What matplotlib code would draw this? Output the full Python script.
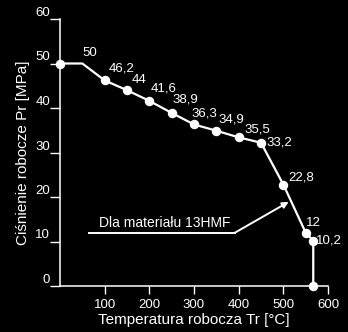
import matplotlib
matplotlib.use("Agg")
import matplotlib.pyplot as plt

# ---- data ----
temps = [0, 50, 100, 150, 200, 250, 300, 350, 400, 450, 500, 550, 567, 567]
pressures = [50, 50, 46.2, 44, 41.6, 38.9, 36.3, 34.9, 33.4, 32.2, 22.8, 12, 10.2, 0]
point_labels = ["", "50", "46,2", "44", "41,6", "38,9", "36,3", "34,9", "35,5",
                "33,2", "22,8", "12", "10,2", ""]
x_ticks = [100, 200, 300, 400, 500, 600]
y_ticks = [0, 10, 20, 30, 40, 50, 60]
annotation_text = "Dla materiału 13HMF"

# ---- style ----
plt.rcParams['font.family'] = ['Liberation Sans', 'DejaVu Sans']
W, H = 348, 332
fig = plt.figure(figsize=(W / 100, H / 100), dpi=100, facecolor='black')
ax = fig.add_axes([60 / W, (H - 286) / H, 268 / W, 267 / H])
ax.set_facecolor('black')
ax.set_xlim(0, 600)
ax.set_ylim(0, 60)
for s in ['top', 'right']:
    ax.spines[s].set_visible(False)
for s in ['left', 'bottom']:
    ax.spines[s].set_color('white')
    ax.spines[s].set_linewidth(1.1)

ax.set_xticks(x_ticks)
ax.set_yticks(y_ticks)
ax.tick_params(axis='x', colors='white', length=6, width=1.0, pad=3, labelsize=9.5)
ax.tick_params(axis='y', colors='white', length=7, width=1.0, pad=0, labelsize=9.5)
for lab in ax.get_yticklabels():
    lab.set_va('bottom')

# line with markers (no marker at the kink at x=50)
marker_idx = [i for i in range(len(temps)) if i != 1]
ax.plot(temps, pressures, color='white', lw=1.6, marker='o', ms=5.8,
        markevery=marker_idx, clip_on=False, zorder=3)

# label offsets in pixels (dx, dy) and vertical alignment
offsets = [(0, 0), (0, 4), (4, 6), (5, 4.5), (1, 6), (1, 7), (-3, 5), (2, 5),
           (6, 2), (5, 0), (5, 1), (0, 4), (3, 0), (0, 0)]
valigns = ['bottom'] * 9 + ['center', 'bottom', 'bottom', 'center', 'bottom']
for x, y, t, (dx, dy), va in zip(temps, pressures, point_labels, offsets, valigns):
    if t:
        ax.annotate(t, (x, y), xytext=(dx * 0.72, dy * 0.72), textcoords='offset points',
                    ha='left', va=va, color='white', fontsize=9.5)

# annotation with underline and arrow
ax.plot([65, 392], [12.0, 12.0], color='white', lw=1.4)
ax.annotate("", xy=(512, 18.9), xytext=(392, 12.0),
            arrowprops=dict(arrowstyle='-|>', color='white', lw=1.4,
                            mutation_scale=9, shrinkA=0, shrinkB=0))
ax.text(87, 12.6, annotation_text, color='white', fontsize=10, ha='left', va='bottom')

ax.set_xlabel("Temperatura robocza Tr [°C]", color='white', fontsize=11, labelpad=2)
ax.set_ylabel("Ciśnienie robocze Pr [MPa]", color='white', fontsize=11, labelpad=4)

fig.savefig("out.png", dpi=100, facecolor='black')
